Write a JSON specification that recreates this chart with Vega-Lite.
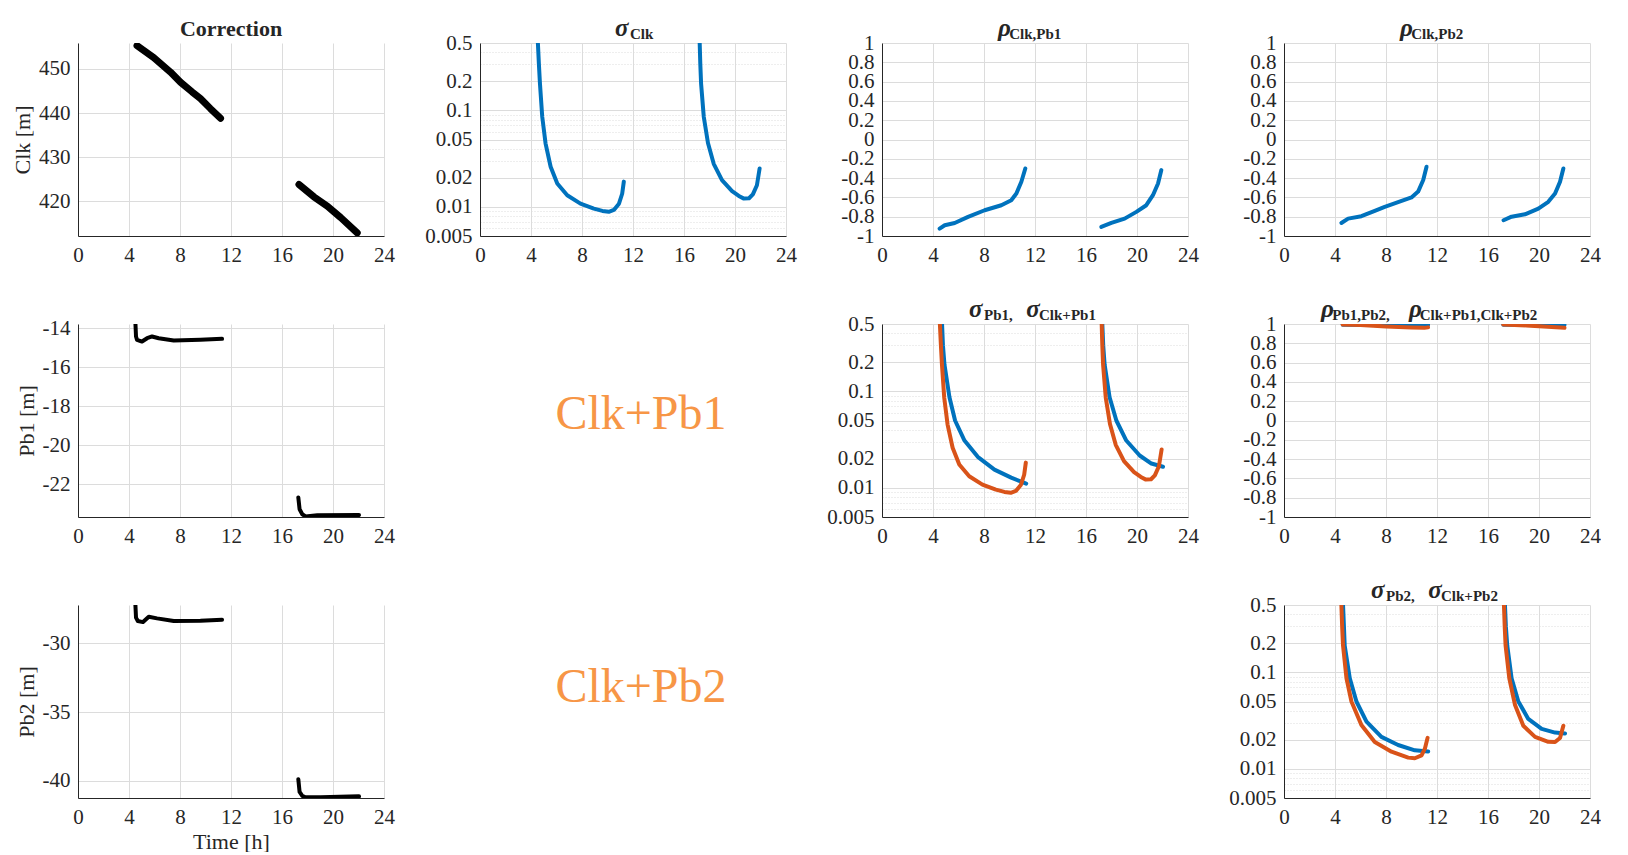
{
  "$schema": "https://vega.github.io/schema/vega-lite/v6.json",
  "background": "white",
  "padding": {"left": 11, "top": 16, "right": 0, "bottom": 0},
  "columns": 4,
  "spacing": {"row": 32, "column": 29},
  "datasets": {
    "clk": [
      {"t": 4.63, "v": 455.3, "seg": 1}, {"t": 5.94, "v": 452.6, "seg": 1}, {"t": 7.25, "v": 449.3, "seg": 1}, {"t": 8.04, "v": 447.0, "seg": 1}, {"t": 8.95, "v": 444.8, "seg": 1}, {"t": 9.6, "v": 443.3, "seg": 1}, {"t": 10.39, "v": 441.0, "seg": 1}, {"t": 11.18, "v": 438.8, "seg": 1},
      {"t": 17.33, "v": 423.8, "seg": 2}, {"t": 18.5, "v": 421.0, "seg": 2}, {"t": 19.55, "v": 418.9, "seg": 2}, {"t": 20.6, "v": 416.3, "seg": 2}, {"t": 21.9, "v": 412.8, "seg": 2}
    ],
    "pb1": [
      {"t": 4.5, "v": -13.7, "seg": 1}, {"t": 4.55, "v": -14.43, "seg": 1}, {"t": 4.63, "v": -14.6, "seg": 1}, {"t": 5.02, "v": -14.69, "seg": 1}, {"t": 5.42, "v": -14.52, "seg": 1}, {"t": 5.81, "v": -14.43, "seg": 1}, {"t": 6.33, "v": -14.52, "seg": 1}, {"t": 7.51, "v": -14.64, "seg": 1}, {"t": 9.6, "v": -14.6, "seg": 1}, {"t": 11.3, "v": -14.55, "seg": 1},
      {"t": 17.28, "v": -22.69, "seg": 2}, {"t": 17.38, "v": -23.29, "seg": 2}, {"t": 17.59, "v": -23.55, "seg": 2}, {"t": 17.85, "v": -23.66, "seg": 2}, {"t": 18.77, "v": -23.6, "seg": 2}, {"t": 22.04, "v": -23.59, "seg": 2}
    ],
    "pb2": [
      {"t": 4.5, "v": -27.18, "seg": 1}, {"t": 4.55, "v": -28.15, "seg": 1}, {"t": 4.69, "v": -28.39, "seg": 1}, {"t": 5.1, "v": -28.47, "seg": 1}, {"t": 5.55, "v": -28.08, "seg": 1}, {"t": 6.2, "v": -28.2, "seg": 1}, {"t": 7.51, "v": -28.39, "seg": 1}, {"t": 9.6, "v": -28.37, "seg": 1}, {"t": 11.3, "v": -28.3, "seg": 1},
      {"t": 17.28, "v": -39.88, "seg": 2}, {"t": 17.38, "v": -40.8, "seg": 2}, {"t": 17.59, "v": -41.09, "seg": 2}, {"t": 17.85, "v": -41.19, "seg": 2}, {"t": 19.03, "v": -41.19, "seg": 2}, {"t": 22.04, "v": -41.12, "seg": 2}
    ],
    "sclk": [
      {"t": 4.54, "v": 0.5, "s": "a", "seg": 1}, {"t": 4.62, "v": 0.3, "s": "a", "seg": 1}, {"t": 4.7, "v": 0.192, "s": "a", "seg": 1}, {"t": 4.88, "v": 0.0863, "s": "a", "seg": 1}, {"t": 5.14, "v": 0.0456, "s": "a", "seg": 1}, {"t": 5.54, "v": 0.0261, "s": "a", "seg": 1}, {"t": 6.06, "v": 0.0175, "s": "a", "seg": 1}, {"t": 6.84, "v": 0.01324, "s": "a", "seg": 1}, {"t": 7.88, "v": 0.01084, "s": "a", "seg": 1}, {"t": 8.93, "v": 0.0096, "s": "a", "seg": 1}, {"t": 9.6, "v": 0.0091, "s": "a", "seg": 1}, {"t": 10.1, "v": 0.0089, "s": "a", "seg": 1}, {"t": 10.5, "v": 0.0093, "s": "a", "seg": 1}, {"t": 10.9, "v": 0.0108, "s": "a", "seg": 1}, {"t": 11.15, "v": 0.0137, "s": "a", "seg": 1}, {"t": 11.28, "v": 0.0183, "s": "a", "seg": 1},
      {"t": 17.23, "v": 0.5, "s": "a", "seg": 2}, {"t": 17.28, "v": 0.3, "s": "a", "seg": 2}, {"t": 17.34, "v": 0.19, "s": "a", "seg": 2}, {"t": 17.55, "v": 0.086, "s": "a", "seg": 2}, {"t": 17.88, "v": 0.046, "s": "a", "seg": 2}, {"t": 18.33, "v": 0.028, "s": "a", "seg": 2}, {"t": 18.98, "v": 0.019, "s": "a", "seg": 2}, {"t": 19.77, "v": 0.0146, "s": "a", "seg": 2}, {"t": 20.3, "v": 0.013, "s": "a", "seg": 2}, {"t": 20.7, "v": 0.0122, "s": "a", "seg": 2}, {"t": 21.1, "v": 0.0123, "s": "a", "seg": 2}, {"t": 21.4, "v": 0.0135, "s": "a", "seg": 2}, {"t": 21.72, "v": 0.0168, "s": "a", "seg": 2}, {"t": 21.93, "v": 0.025, "s": "a", "seg": 2}
    ],
    "rclk1": [
      {"t": 4.52, "v": -0.924, "seg": 1}, {"t": 4.92, "v": -0.889, "seg": 1}, {"t": 5.7, "v": -0.865, "seg": 1}, {"t": 6.75, "v": -0.802, "seg": 1}, {"t": 8.05, "v": -0.733, "seg": 1}, {"t": 9.36, "v": -0.681, "seg": 1}, {"t": 10.14, "v": -0.629, "seg": 1}, {"t": 10.54, "v": -0.56, "seg": 1}, {"t": 10.93, "v": -0.438, "seg": 1}, {"t": 11.24, "v": -0.3, "seg": 1},
      {"t": 17.2, "v": -0.906, "seg": 2}, {"t": 17.99, "v": -0.865, "seg": 2}, {"t": 19.03, "v": -0.82, "seg": 2}, {"t": 19.95, "v": -0.75, "seg": 2}, {"t": 20.73, "v": -0.681, "seg": 2}, {"t": 21.25, "v": -0.577, "seg": 2}, {"t": 21.65, "v": -0.456, "seg": 2}, {"t": 21.91, "v": -0.317, "seg": 2}
    ],
    "rclk2": [
      {"t": 4.5, "v": -0.865, "seg": 1}, {"t": 5.03, "v": -0.82, "seg": 1}, {"t": 6.07, "v": -0.795, "seg": 1}, {"t": 7.12, "v": -0.74, "seg": 1}, {"t": 7.9, "v": -0.698, "seg": 1}, {"t": 8.95, "v": -0.65, "seg": 1}, {"t": 10.0, "v": -0.6, "seg": 1}, {"t": 10.52, "v": -0.54, "seg": 1}, {"t": 10.92, "v": -0.42, "seg": 1}, {"t": 11.18, "v": -0.283, "seg": 1},
      {"t": 17.22, "v": -0.837, "seg": 2}, {"t": 17.85, "v": -0.8, "seg": 2}, {"t": 18.9, "v": -0.775, "seg": 2}, {"t": 19.95, "v": -0.716, "seg": 2}, {"t": 20.73, "v": -0.646, "seg": 2}, {"t": 21.26, "v": -0.56, "seg": 2}, {"t": 21.65, "v": -0.438, "seg": 2}, {"t": 21.91, "v": -0.3, "seg": 2}
    ],
    "s1": [
      {"t": 4.71, "v": 0.5, "s": "a", "seg": 1}, {"t": 4.78, "v": 0.3, "s": "a", "seg": 1}, {"t": 4.9, "v": 0.19, "s": "a", "seg": 1}, {"t": 5.29, "v": 0.087, "s": "a", "seg": 1}, {"t": 5.73, "v": 0.05, "s": "a", "seg": 1}, {"t": 6.47, "v": 0.031, "s": "a", "seg": 1}, {"t": 7.51, "v": 0.021, "s": "a", "seg": 1}, {"t": 8.82, "v": 0.0155, "s": "a", "seg": 1}, {"t": 10.13, "v": 0.0128, "s": "a", "seg": 1}, {"t": 11.31, "v": 0.0111, "s": "a", "seg": 1},
      {"t": 17.28, "v": 0.5, "s": "a", "seg": 2}, {"t": 17.35, "v": 0.3, "s": "a", "seg": 2}, {"t": 17.46, "v": 0.19, "s": "a", "seg": 2}, {"t": 17.85, "v": 0.087, "s": "a", "seg": 2}, {"t": 18.38, "v": 0.05, "s": "a", "seg": 2}, {"t": 19.16, "v": 0.031, "s": "a", "seg": 2}, {"t": 20.21, "v": 0.0217, "s": "a", "seg": 2}, {"t": 21.13, "v": 0.0179, "s": "a", "seg": 2}, {"t": 22.04, "v": 0.0166, "s": "a", "seg": 2},
      {"t": 4.54, "v": 0.5, "s": "b", "seg": 1}, {"t": 4.62, "v": 0.3, "s": "b", "seg": 1}, {"t": 4.7, "v": 0.192, "s": "b", "seg": 1}, {"t": 4.88, "v": 0.0863, "s": "b", "seg": 1}, {"t": 5.14, "v": 0.0456, "s": "b", "seg": 1}, {"t": 5.54, "v": 0.0261, "s": "b", "seg": 1}, {"t": 6.06, "v": 0.0175, "s": "b", "seg": 1}, {"t": 6.84, "v": 0.01324, "s": "b", "seg": 1}, {"t": 7.88, "v": 0.01084, "s": "b", "seg": 1}, {"t": 8.93, "v": 0.0096, "s": "b", "seg": 1}, {"t": 9.6, "v": 0.0091, "s": "b", "seg": 1}, {"t": 10.1, "v": 0.0089, "s": "b", "seg": 1}, {"t": 10.5, "v": 0.0093, "s": "b", "seg": 1}, {"t": 10.9, "v": 0.0108, "s": "b", "seg": 1}, {"t": 11.15, "v": 0.0137, "s": "b", "seg": 1}, {"t": 11.28, "v": 0.0183, "s": "b", "seg": 1},
      {"t": 17.23, "v": 0.5, "s": "b", "seg": 2}, {"t": 17.28, "v": 0.3, "s": "b", "seg": 2}, {"t": 17.34, "v": 0.19, "s": "b", "seg": 2}, {"t": 17.55, "v": 0.086, "s": "b", "seg": 2}, {"t": 17.88, "v": 0.046, "s": "b", "seg": 2}, {"t": 18.33, "v": 0.028, "s": "b", "seg": 2}, {"t": 18.98, "v": 0.019, "s": "b", "seg": 2}, {"t": 19.77, "v": 0.0146, "s": "b", "seg": 2}, {"t": 20.3, "v": 0.013, "s": "b", "seg": 2}, {"t": 20.7, "v": 0.0122, "s": "b", "seg": 2}, {"t": 21.1, "v": 0.0123, "s": "b", "seg": 2}, {"t": 21.4, "v": 0.0135, "s": "b", "seg": 2}, {"t": 21.72, "v": 0.0168, "s": "b", "seg": 2}, {"t": 21.93, "v": 0.025, "s": "b", "seg": 2}
    ],
    "r12": [
      {"t": 4.6, "v": 0.992, "s": "a", "seg": 1}, {"t": 8, "v": 0.99, "s": "a", "seg": 1}, {"t": 11.3, "v": 0.99, "s": "a", "seg": 1},
      {"t": 17.2, "v": 0.992, "s": "a", "seg": 2}, {"t": 22, "v": 0.99, "s": "a", "seg": 2},
      {"t": 4.6, "v": 0.995, "s": "b", "seg": 1}, {"t": 6, "v": 0.99, "s": "b", "seg": 1}, {"t": 8, "v": 0.975, "s": "b", "seg": 1}, {"t": 10, "v": 0.965, "s": "b", "seg": 1}, {"t": 11, "v": 0.96, "s": "b", "seg": 1}, {"t": 11.3, "v": 0.965, "s": "b", "seg": 1},
      {"t": 17.2, "v": 0.995, "s": "b", "seg": 2}, {"t": 19, "v": 0.985, "s": "b", "seg": 2}, {"t": 21, "v": 0.97, "s": "b", "seg": 2}, {"t": 22, "v": 0.96, "s": "b", "seg": 2}
    ],
    "s2": [
      {"t": 4.63, "v": 0.5, "s": "a", "seg": 1}, {"t": 4.7, "v": 0.3, "s": "a", "seg": 1}, {"t": 4.76, "v": 0.19, "s": "a", "seg": 1}, {"t": 5.16, "v": 0.087, "s": "a", "seg": 1}, {"t": 5.68, "v": 0.05, "s": "a", "seg": 1}, {"t": 6.47, "v": 0.031, "s": "a", "seg": 1}, {"t": 7.64, "v": 0.0215, "s": "a", "seg": 1}, {"t": 8.95, "v": 0.0177, "s": "a", "seg": 1}, {"t": 10.26, "v": 0.0156, "s": "a", "seg": 1}, {"t": 11.31, "v": 0.0152, "s": "a", "seg": 1},
      {"t": 17.33, "v": 0.5, "s": "a", "seg": 2}, {"t": 17.4, "v": 0.3, "s": "a", "seg": 2}, {"t": 17.51, "v": 0.19, "s": "a", "seg": 2}, {"t": 17.85, "v": 0.087, "s": "a", "seg": 2}, {"t": 18.38, "v": 0.05, "s": "a", "seg": 2}, {"t": 19.16, "v": 0.033, "s": "a", "seg": 2}, {"t": 20.21, "v": 0.026, "s": "a", "seg": 2}, {"t": 21.26, "v": 0.0238, "s": "a", "seg": 2}, {"t": 22.04, "v": 0.0233, "s": "a", "seg": 2},
      {"t": 4.5, "v": 0.5, "s": "b", "seg": 1}, {"t": 4.56, "v": 0.3, "s": "b", "seg": 1}, {"t": 4.63, "v": 0.19, "s": "b", "seg": 1}, {"t": 4.9, "v": 0.087, "s": "b", "seg": 1}, {"t": 5.29, "v": 0.05, "s": "b", "seg": 1}, {"t": 6.07, "v": 0.0285, "s": "b", "seg": 1}, {"t": 7.12, "v": 0.019, "s": "b", "seg": 1}, {"t": 8.43, "v": 0.0151, "s": "b", "seg": 1}, {"t": 9.74, "v": 0.0131, "s": "b", "seg": 1}, {"t": 10.26, "v": 0.0129, "s": "b", "seg": 1}, {"t": 10.79, "v": 0.0138, "s": "b", "seg": 1}, {"t": 11.05, "v": 0.0162, "s": "b", "seg": 1}, {"t": 11.26, "v": 0.021, "s": "b", "seg": 1},
      {"t": 17.25, "v": 0.5, "s": "b", "seg": 2}, {"t": 17.31, "v": 0.3, "s": "b", "seg": 2}, {"t": 17.38, "v": 0.19, "s": "b", "seg": 2}, {"t": 17.67, "v": 0.087, "s": "b", "seg": 2}, {"t": 18.12, "v": 0.046, "s": "b", "seg": 2}, {"t": 18.77, "v": 0.028, "s": "b", "seg": 2}, {"t": 19.69, "v": 0.0215, "s": "b", "seg": 2}, {"t": 20.73, "v": 0.0191, "s": "b", "seg": 2}, {"t": 21.26, "v": 0.019, "s": "b", "seg": 2}, {"t": 21.65, "v": 0.0209, "s": "b", "seg": 2}, {"t": 21.91, "v": 0.028, "s": "b", "seg": 2}
    ]
  },
  "concat": [
    {
      "width": 306, "height": 193,
      "title": {"text": "Correction", "anchor": "middle", "frame": "group", "offset": 2, "fontSize": 22},
      "data": {"name": "clk"},
      "mark": {"type": "line", "color": "black", "strokeWidth": 7, "clip": true},
      "encoding": {
        "x": {"field": "t", "type": "quantitative", "scale": {"domain": [0, 24], "nice": false}, "axis": {"values": [0, 4, 8, 12, 16, 20, 24], "title": null, "labelFlush": false}},
        "y": {"field": "v", "type": "quantitative", "scale": {"domain": [412.1, 455.9], "nice": false, "zero": false}, "axis": {"values": [420, 430, 440, 450], "title": "Clk [m]"}},
        "detail": {"field": "seg"}
      }
    },
    {
      "width": 306, "height": 193,
      "title": {"text": "σ", "subtitle": "\u200b\u00a0\u00a0\u00a0\u00a0Clk", "anchor": "start", "frame": "group", "dx": 135, "fontStyle": "italic", "subtitlePadding": -14, "offset": -10},
      "data": {"name": "sclk"},
      "mark": {"type": "line", "strokeWidth": 4, "clip": true, "color": "#0072BD"},
      "encoding": {
        "x": {"field": "t", "type": "quantitative", "scale": {"domain": [0, 24], "nice": false}, "axis": {"values": [0, 4, 8, 12, 16, 20, 24], "title": null, "labelFlush": false}},
        "y": {"field": "v", "type": "quantitative", "scale": {"type": "log", "domain": [0.005, 0.5], "nice": false}, "axis": {"title": null, "values": [0.005, 0.006, 0.007, 0.008, 0.009, 0.01, 0.02, 0.03, 0.04, 0.05, 0.06, 0.07, 0.08, 0.09, 0.1, 0.2, 0.3, 0.4, 0.5], "labelExpr": "indexof([0.005,0.01,0.02,0.05,0.1,0.2,0.5], datum.value) >= 0 ? format(datum.value, '~g') : ''", "gridDash": {"condition": {"test": "indexof([0.005,0.01,0.02,0.05,0.1,0.2,0.5], datum.value) < 0", "value": [1, 2]}, "value": []}}},
        "detail": {"field": "seg"}
      }
    },
    {
      "width": 306, "height": 193,
      "title": {"text": "ρ", "subtitle": "\u200b\u00a0\u00a0\u00a0Clk,Pb1", "anchor": "start", "frame": "group", "dx": 116, "fontStyle": "italic", "subtitlePadding": -14, "offset": -10},
      "data": {"name": "rclk1"},
      "mark": {"type": "line", "strokeWidth": 4, "clip": true, "color": "#0072BD"},
      "encoding": {
        "x": {"field": "t", "type": "quantitative", "scale": {"domain": [0, 24], "nice": false}, "axis": {"values": [0, 4, 8, 12, 16, 20, 24], "title": null, "labelFlush": false}},
        "y": {"field": "v", "type": "quantitative", "scale": {"domain": [-1, 1], "nice": false}, "axis": {"title": null, "values": [-1, -0.8, -0.6, -0.4, -0.2, 0, 0.2, 0.4, 0.6, 0.8, 1]}},
        "detail": {"field": "seg"}
      }
    },
    {
      "width": 306, "height": 193,
      "title": {"text": "ρ", "subtitle": "\u200b\u00a0\u00a0\u00a0Clk,Pb2", "anchor": "start", "frame": "group", "dx": 116, "fontStyle": "italic", "subtitlePadding": -14, "offset": -10},
      "data": {"name": "rclk2"},
      "mark": {"type": "line", "strokeWidth": 4, "clip": true, "color": "#0072BD"},
      "encoding": {
        "x": {"field": "t", "type": "quantitative", "scale": {"domain": [0, 24], "nice": false}, "axis": {"values": [0, 4, 8, 12, 16, 20, 24], "title": null, "labelFlush": false}},
        "y": {"field": "v", "type": "quantitative", "scale": {"domain": [-1, 1], "nice": false}, "axis": {"title": null, "values": [-1, -0.8, -0.6, -0.4, -0.2, 0, 0.2, 0.4, 0.6, 0.8, 1]}},
        "detail": {"field": "seg"}
      }
    },
    {
      "width": 306, "height": 193,
      "data": {"name": "pb1"},
      "mark": {"type": "line", "color": "black", "strokeWidth": 4, "clip": true},
      "encoding": {
        "x": {"field": "t", "type": "quantitative", "scale": {"domain": [0, 24], "nice": false}, "axis": {"values": [0, 4, 8, 12, 16, 20, 24], "title": null, "labelFlush": false}},
        "y": {"field": "v", "type": "quantitative", "scale": {"domain": [-23.69, -13.79], "nice": false, "zero": false}, "axis": {"values": [-22, -20, -18, -16, -14], "title": "Pb1 [m]"}},
        "detail": {"field": "seg"}
      }
    },
    {
      "width": 306, "height": 193,
      "data": {"values": [{"label": "Clk+Pb1"}]},
      "mark": {"type": "text", "font": "Liberation Serif", "fontSize": 48, "color": "#F79646", "dy": -6, "dx": 8},
      "encoding": {"text": {"field": "label"}}
    },
    {
      "width": 306, "height": 193,
      "title": {"text": "σ\u00a0\u00a0\u00a0\u00a0\u00a0\u00a0\u00a0σ", "subtitle": "\u200b\u00a0\u00a0\u00a0\u00a0Pb1,\u00a0\u00a0\u00a0\u00a0\u00a0\u00a0\u00a0Clk+Pb1", "anchor": "start", "frame": "group", "dx": 87, "fontStyle": "italic", "subtitlePadding": -14, "offset": -10},
      "data": {"name": "s1"},
      "mark": {"type": "line", "strokeWidth": 4, "clip": true},
      "encoding": {
        "x": {"field": "t", "type": "quantitative", "scale": {"domain": [0, 24], "nice": false}, "axis": {"values": [0, 4, 8, 12, 16, 20, 24], "title": null, "labelFlush": false}},
        "y": {"field": "v", "type": "quantitative", "scale": {"type": "log", "domain": [0.005, 0.5], "nice": false}, "axis": {"title": null, "values": [0.005, 0.006, 0.007, 0.008, 0.009, 0.01, 0.02, 0.03, 0.04, 0.05, 0.06, 0.07, 0.08, 0.09, 0.1, 0.2, 0.3, 0.4, 0.5], "labelExpr": "indexof([0.005,0.01,0.02,0.05,0.1,0.2,0.5], datum.value) >= 0 ? format(datum.value, '~g') : ''", "gridDash": {"condition": {"test": "indexof([0.005,0.01,0.02,0.05,0.1,0.2,0.5], datum.value) < 0", "value": [1, 2]}, "value": []}}},
        "color": {"field": "s", "type": "nominal", "scale": {"domain": ["a", "b"], "range": ["#0072BD", "#D95319"]}, "legend": null},
        "detail": {"field": "seg"}
      }
    },
    {
      "width": 306, "height": 193,
      "title": {"text": "ρ\u00a0\u00a0\u00a0\u00a0\u00a0\u00a0\u00a0\u00a0\u00a0\u00a0\u00a0\u00a0ρ", "subtitle": "\u200b\u00a0\u00a0\u00a0Pb1,Pb2,\u00a0\u00a0\u00a0\u00a0\u00a0\u00a0\u00a0\u00a0Clk+Pb1,Clk+Pb2", "anchor": "start", "frame": "group", "dx": 37, "fontStyle": "italic", "subtitlePadding": -14, "offset": -10},
      "data": {"name": "r12"},
      "mark": {"type": "line", "strokeWidth": 4, "clip": true},
      "encoding": {
        "x": {"field": "t", "type": "quantitative", "scale": {"domain": [0, 24], "nice": false}, "axis": {"values": [0, 4, 8, 12, 16, 20, 24], "title": null, "labelFlush": false}},
        "y": {"field": "v", "type": "quantitative", "scale": {"domain": [-1, 1], "nice": false}, "axis": {"title": null, "values": [-1, -0.8, -0.6, -0.4, -0.2, 0, 0.2, 0.4, 0.6, 0.8, 1]}},
        "color": {"field": "s", "type": "nominal", "scale": {"domain": ["a", "b"], "range": ["#0072BD", "#D95319"]}, "legend": null},
        "detail": {"field": "seg"}
      }
    },
    {
      "width": 306, "height": 193,
      "data": {"name": "pb2"},
      "mark": {"type": "line", "color": "black", "strokeWidth": 4, "clip": true},
      "encoding": {
        "x": {"field": "t", "type": "quantitative", "scale": {"domain": [0, 24], "nice": false}, "axis": {"values": [0, 4, 8, 12, 16, 20, 24], "title": "Time [h]", "labelFlush": false}},
        "y": {"field": "v", "type": "quantitative", "scale": {"domain": [-41.24, -27.23], "nice": false, "zero": false}, "axis": {"values": [-40, -35, -30], "title": "Pb2 [m]"}},
        "detail": {"field": "seg"}
      }
    },
    {
      "width": 306, "height": 193,
      "data": {"values": [{"label": "Clk+Pb2"}]},
      "mark": {"type": "text", "font": "Liberation Serif", "fontSize": 48, "color": "#F79646", "dy": -14, "dx": 8},
      "encoding": {"text": {"field": "label"}}
    },
    {
      "width": 306, "height": 193,
      "data": {"values": [{"label": ""}]},
      "mark": {"type": "text"},
      "encoding": {"text": {"field": "label"}}
    },
    {
      "width": 306, "height": 193,
      "title": {"text": "σ\u00a0\u00a0\u00a0\u00a0\u00a0\u00a0\u00a0σ", "subtitle": "\u200b\u00a0\u00a0\u00a0\u00a0Pb2,\u00a0\u00a0\u00a0\u00a0\u00a0\u00a0\u00a0Clk+Pb2", "anchor": "start", "frame": "group", "dx": 87, "fontStyle": "italic", "subtitlePadding": -14, "offset": -10},
      "data": {"name": "s2"},
      "mark": {"type": "line", "strokeWidth": 4, "clip": true},
      "encoding": {
        "x": {"field": "t", "type": "quantitative", "scale": {"domain": [0, 24], "nice": false}, "axis": {"values": [0, 4, 8, 12, 16, 20, 24], "title": null, "labelFlush": false}},
        "y": {"field": "v", "type": "quantitative", "scale": {"type": "log", "domain": [0.005, 0.5], "nice": false}, "axis": {"title": null, "values": [0.005, 0.006, 0.007, 0.008, 0.009, 0.01, 0.02, 0.03, 0.04, 0.05, 0.06, 0.07, 0.08, 0.09, 0.1, 0.2, 0.3, 0.4, 0.5], "labelExpr": "indexof([0.005,0.01,0.02,0.05,0.1,0.2,0.5], datum.value) >= 0 ? format(datum.value, '~g') : ''", "gridDash": {"condition": {"test": "indexof([0.005,0.01,0.02,0.05,0.1,0.2,0.5], datum.value) < 0", "value": [1, 2]}, "value": []}}},
        "color": {"field": "s", "type": "nominal", "scale": {"domain": ["a", "b"], "range": ["#0072BD", "#D95319"]}, "legend": null},
        "detail": {"field": "seg"}
      }
    }
  ],
  "config": {
    "font": "Liberation Serif",
    "view": {"stroke": null},
    "line": {"strokeCap": "round", "strokeJoin": "round"},
    "style": {"guide-label": {"font": "Liberation Serif", "fontSize": 21}, "guide-title": {"font": "Liberation Serif", "fontSize": 22}},
    "axis": {
      "labelFont": "Liberation Serif", "labelFontSize": 21, "labelColor": "#262626",
      "domainColor": "#262626", "domainWidth": 1,
      "gridColor": "#dcdcdc", "gridWidth": 1,
      "ticks": false, "labelPadding": 8, "labelOverlap": false,
      "labelExpr": "(datum.value < 0 ? '-' : '') + format(abs(datum.value), '~g')",
      "titleFont": "Liberation Serif", "titleFontSize": 22, "titleFontWeight": "normal", "titleColor": "#262626"
    },
    "title": {
      "font": "Liberation Serif", "fontSize": 25, "fontWeight": "bold", "color": "#262626", "offset": 4,
      "subtitleFont": "Liberation Serif", "subtitleFontSize": 15, "subtitleFontWeight": "bold", "subtitleColor": "#262626"
    }
  }
}
